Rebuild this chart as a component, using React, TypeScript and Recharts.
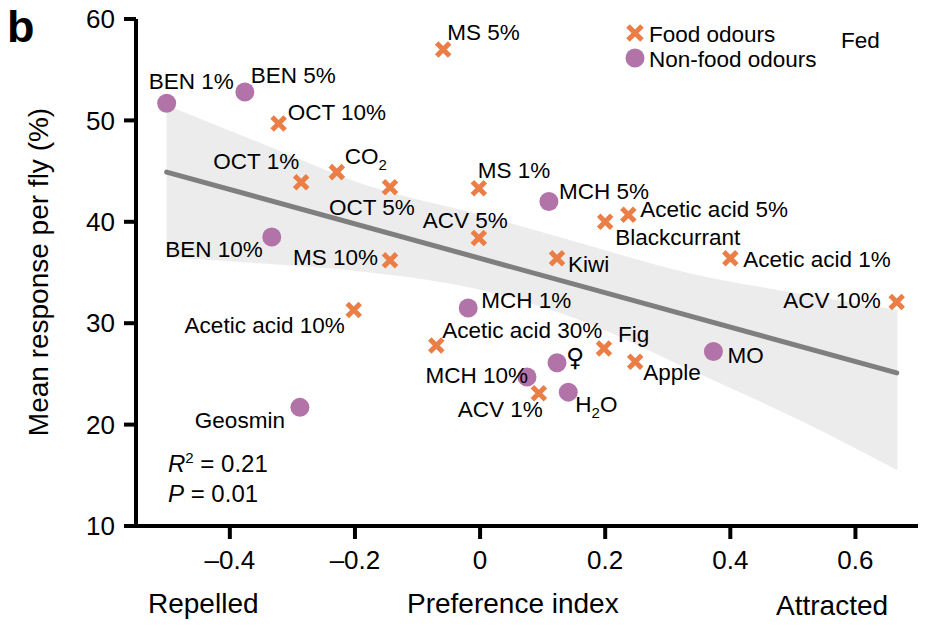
import React from "react";
import { ComposedChart, Area, Line, Scatter, XAxis, YAxis } from "recharts";

const FOOD_NAMES = [
  "MS 5%", "OCT 10%", "OCT 1%", "CO2", "OCT 5%", "MS 1%", "ACV 5%", "MS 10%",
  "Acetic acid 10%", "Acetic acid 30%", "ACV 1%", "Fig", "Apple", "Kiwi",
  "Blackcurrant", "Acetic acid 5%", "Acetic acid 1%", "ACV 10%",
];
const FOOD_X = [-0.059, -0.322, -0.286, -0.229, -0.144, -0.002, -0.002, -0.144, -0.202, -0.07, 0.094, 0.198, 0.248, 0.123, 0.2, 0.237, 0.4, 0.666];
const FOOD_Y = [57.0, 49.7, 43.9, 44.9, 43.4, 43.3, 38.4, 36.2, 31.3, 27.8, 23.1, 27.5, 26.2, 36.4, 40.0, 40.7, 36.4, 32.1];

const NONFOOD_NAMES = ["BEN 1%", "BEN 5%", "BEN 10%", "Geosmin", "MCH 5%", "MCH 1%", "♀", "MCH 10%", "H2O", "MO"];
const NONFOOD_X = [-0.501, -0.376, -0.333, -0.288, 0.11, -0.019, 0.123, 0.075, 0.141, 0.373];
const NONFOOD_Y = [51.7, 52.8, 38.5, 21.7, 42.0, 31.5, 26.1, 24.7, 23.2, 27.2];

// regression fit and its confidence band
const FIT_X = [-0.501, 0.666];
const FIT_Y = [44.9, 25.1];
const BAND_X = [-0.501, -0.352, -0.176, 0, 0.16, 0.336, 0.512, 0.667];
const BAND_LO = [36.5, 35.9, 35.0, 33.3, 30.3, 25.4, 20.4, 15.5];
const BAND_HI = [51.5, 47.8, 43.5, 40.7, 37.9, 34.9, 32.9, 31.3];

const X_TICKS = [-0.4, -0.2, 0, 0.2, 0.4, 0.6];
const Y_TICKS = [10, 20, 30, 40, 50, 60];

const ORANGE = "#EA7E46";
const PURPLE = "#B274A8";
const FONT = "'Liberation Sans', Arial, Helvetica, sans-serif";

// label offsets from the marker centre: dx, dy (baseline), anchor
const LABEL_POS: Record<string, [number, number, "start" | "end"]> = {
  "MS 5%": [4, -9, "start"],
  "OCT 10%": [9, -3, "start"],
  "OCT 1%": [-2, -13, "end"],
  CO2: [8, -8, "start"],
  "OCT 5%": [-61, 28, "start"],
  "MS 1%": [-1, -10, "start"],
  "ACV 5%": [-56, -10, "start"],
  "MS 10%": [-12, 5, "end"],
  "Acetic acid 10%": [-9, 23, "end"],
  "Acetic acid 30%": [6, -8, "start"],
  "ACV 1%": [4, 24, "end"],
  Fig: [14, -7, "start"],
  Apple: [8, 18, "start"],
  Kiwi: [11, 14, "start"],
  Blackcurrant: [10, 23, "start"],
  "Acetic acid 5%": [12, 2, "start"],
  "Acetic acid 1%": [13, 9, "start"],
  "ACV 10%": [-16, 6, "end"],
  "BEN 1%": [-18, -14, "start"],
  "BEN 5%": [6, -9, "start"],
  "BEN 10%": [-9, 20, "end"],
  Geosmin: [-15, 21, "end"],
  "MCH 5%": [10, -3, "start"],
  "MCH 1%": [13, 0, "start"],
  "♀": [9, 3, "start"],
  "MCH 10%": [1, 6, "end"],
  H2O: [7, 20, "start"],
  MO: [14, 11, "start"],
};

const foodData = FOOD_NAMES.map((name, i) => ({ name, x: FOOD_X[i], y: FOOD_Y[i] }));
const nonFoodData = NONFOOD_NAMES.map((name, i) => ({ name, x: NONFOOD_X[i], y: NONFOOD_Y[i] }));
const fitData = FIT_X.map((x, i) => ({ x, y: FIT_Y[i] }));
const bandData = BAND_X.map((x, i) => ({ x, lo: BAND_LO[i], hi: BAND_HI[i] }));

function PointLabel({ name, cx, cy }: { name: string; cx: number; cy: number }) {
  const [dx, dy, anchor] = LABEL_POS[name] || [10, 0, "start"];
  const common = {
    x: cx + dx,
    y: cy + dy,
    textAnchor: anchor,
    fontSize: 22.5,
    fontFamily: FONT,
    fill: "#000",
  };
  if (name === "CO2") {
    return (
      <text {...common}>
        CO<tspan dy={6} fontSize={15}>2</tspan>
      </text>
    );
  }
  if (name === "H2O") {
    return (
      <text {...common}>
        H<tspan dy={6} fontSize={15}>2</tspan>
        <tspan dy={-6}>O</tspan>
      </text>
    );
  }
  if (name === "♀") {
    return (
      <text {...common} fontSize={25} fontFamily="'DejaVu Sans', sans-serif">
        ♀
      </text>
    );
  }
  return <text {...common}>{name}</text>;
}

const CrossShape = (props: any) => {
  const { cx, cy } = props;
  const name = props.payload?.name ?? props.name;
  const s = 6.5;
  return (
    <g>
      <path
        d={`M${cx - s},${cy - s}L${cx + s},${cy + s}M${cx - s},${cy + s}L${cx + s},${cy - s}`}
        stroke={ORANGE}
        strokeWidth={5}
      />
      <PointLabel name={name} cx={cx} cy={cy} />
    </g>
  );
};

const DotShape = (props: any) => {
  const { cx, cy } = props;
  const name = props.payload?.name ?? props.name;
  return (
    <g>
      <circle cx={cx} cy={cy} r={9.5} fill={PURPLE} />
      <PointLabel name={name} cx={cx} cy={cy} />
    </g>
  );
};

const fmtX = (v: number) => (v < 0 ? `–${Math.abs(v)}` : `${v}`);

export default function App() {
  const tickStyle = { fontSize: 26, fill: "#000", fontFamily: FONT };
  const txt = { fontFamily: FONT, fill: "#000" };
  return (
    <div style={{ position: "absolute", left: 0, top: 0, width: 929, height: 627, background: "#fff" }}>
      <ComposedChart
        width={929}
        height={627}
        data={bandData}
        margin={{ top: 19, right: 11, bottom: 41, left: 36 }}
      >
        <XAxis
          type="number"
          dataKey="x"
          domain={[-0.55, 0.7]}
          ticks={X_TICKS}
          tickFormatter={fmtX}
          allowDataOverflow
          height={60}
          tick={tickStyle}
          tickSize={13}
          tickMargin={12}
          axisLine={{ stroke: "#000", strokeWidth: 4 }}
          tickLine={{ stroke: "#000", strokeWidth: 4 }}
        />
        <YAxis
          type="number"
          dataKey="y"
          domain={[10, 60]}
          ticks={Y_TICKS}
          allowDataOverflow
          width={100}
          tick={tickStyle}
          tickSize={12}
          tickMargin={9}
          axisLine={{ stroke: "#000", strokeWidth: 4 }}
          tickLine={{ stroke: "#000", strokeWidth: 4 }}
        />
        <Area
          type="monotone"
          dataKey={(d: any) => [d.lo, d.hi]}
          fill="#ececec"
          fillOpacity={1}
          stroke="none"
          isAnimationActive={false}
        />
        <Line
          data={fitData}
          dataKey="y"
          stroke="#7f7f7f"
          strokeWidth={5}
          strokeLinecap="round"
          dot={false}
          isAnimationActive={false}
        />
        <Scatter data={foodData} dataKey="y" shape={CrossShape} isAnimationActive={false} />
        <Scatter data={nonFoodData} dataKey="y" shape={DotShape} isAnimationActive={false} />
      </ComposedChart>
      <svg
        width={929}
        height={627}
        style={{ position: "absolute", left: 0, top: 0, pointerEvents: "none" }}
      >
        <text x={7} y={42} fontSize={45} fontWeight="bold" {...txt}>b</text>
        <path d="M628,26L642,40M628,40L642,26" stroke={ORANGE} strokeWidth={5} />
        <text x={649} y={42} fontSize={22.5} {...txt}>Food odours</text>
        <circle cx={635} cy={58} r={9.5} fill={PURPLE} />
        <text x={649} y={67} fontSize={22.5} {...txt}>Non-food odours</text>
        <text x={841} y={48} fontSize={22.5} {...txt}>Fed</text>
        <text x={168} y={472} fontSize={24} {...txt}>
          <tspan fontStyle="italic">R</tspan>
          <tspan dy={-9} fontSize={15}>2</tspan>
          <tspan dy={9}> = 0.21</tspan>
        </text>
        <text x={168} y={502} fontSize={24} {...txt}>
          <tspan fontStyle="italic">P</tspan> = 0.01
        </text>
        <text transform="translate(48,272) rotate(-90)" textAnchor="middle" fontSize={28} {...txt}>
          Mean response per fly (%)
        </text>
        <text x={148} y={613} fontSize={28} {...txt}>Repelled</text>
        <text x={407} y={613} fontSize={28} {...txt}>Preference index</text>
        <text x={776} y={615} fontSize={28} {...txt}>Attracted</text>
      </svg>
    </div>
  );
}
